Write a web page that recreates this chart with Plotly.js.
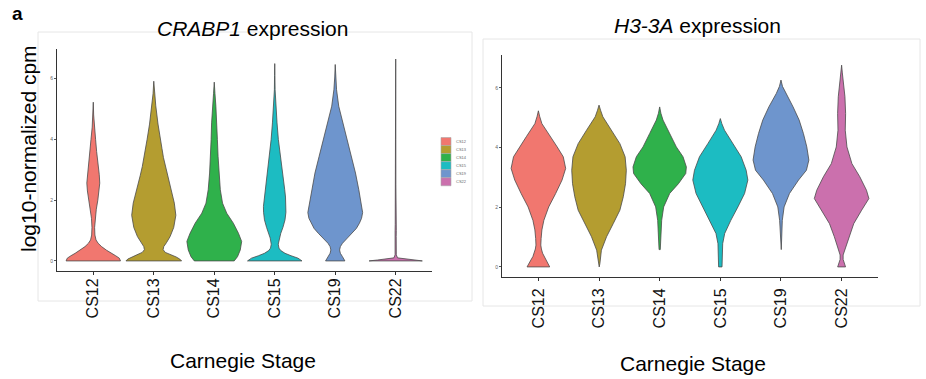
<!DOCTYPE html>
<html><head><meta charset="utf-8">
<script src="https://cdn.plot.ly/plotly-3.0.1.min.js"></script>
<style>html,body{margin:0;padding:0;background:#fff;}#chart{width:926px;height:379px;}</style>
</head><body><div id="chart"></div>
<script>
// ---------- data ----------
const categories = ['CS12', 'CS13', 'CS14', 'CS15', 'CS19', 'CS22'];
const colors = ['#F1776F', '#B49D30', '#2FB14B', '#1CBCC2', '#6E95CD', '#CB70AD'];
const yTickVals = [0, 2, 4, 6];
const genes = ['CRABP1', 'H3-3A'];

// CRABP1: violin outlines (value level -> half width in category units)
const crabp1_cs12_y = [0, 0.09, 0.17, 0.25, 0.35, 0.47, 0.58, 0.69, 0.85, 1.1, 1.4, 1.7, 2.0, 2.3, 2.56, 2.85, 3.2, 3.6, 4.0, 4.4, 4.8, 5.22];
const crabp1_cs12_w = [0.45, 0.43, 0.37, 0.30, 0.22, 0.137, 0.08, 0.045, 0.027, 0.022, 0.03, 0.05, 0.075, 0.097, 0.107, 0.098, 0.075, 0.055, 0.038, 0.018, 0.006, 0];
const crabp1_cs13_y = [0, 0.06, 0.13, 0.2, 0.28, 0.37, 0.47, 0.6, 0.8, 1.1, 1.5, 1.9, 2.3, 2.8, 3.1, 3.4, 3.7, 4.0, 4.5, 5.1, 5.5, 5.91];
const crabp1_cs13_w = [0.46, 0.43, 0.37, 0.28, 0.19, 0.155, 0.165, 0.21, 0.27, 0.33, 0.365, 0.34, 0.29, 0.225, 0.19, 0.16, 0.135, 0.11, 0.07, 0.033, 0.012, 0];
const crabp1_cs14_y = [0, 0.14, 0.36, 0.64, 0.91, 1.24, 1.57, 1.9, 2.34, 2.89, 3.44, 3.99, 4.54, 5.09, 5.5, 5.88];
const crabp1_cs14_w = [0.33, 0.385, 0.43, 0.453, 0.40, 0.316, 0.206, 0.137, 0.10, 0.077, 0.063, 0.052, 0.044, 0.027, 0.012, 0];
const crabp1_cs15_y = [0, 0.09, 0.17, 0.25, 0.34, 0.42, 0.55, 0.75, 0.91, 1.1, 1.35, 1.6, 1.79, 2.1, 2.34, 2.89, 3.44, 3.99, 4.54, 5.09, 5.63, 6.1, 6.49];
const crabp1_cs15_w = [0.45, 0.385, 0.27, 0.17, 0.1, 0.07, 0.058, 0.075, 0.1, 0.135, 0.17, 0.185, 0.187, 0.178, 0.165, 0.13, 0.093, 0.06, 0.038, 0.016, 0.006, 0.003, 0];
const crabp1_cs19_y = [0, 0.07, 0.14, 0.25, 0.36, 0.47, 0.58, 0.75, 0.91, 1.07, 1.24, 1.4, 1.59, 1.9, 2.34, 2.89, 3.44, 3.99, 4.54, 5.09, 5.63, 6.05, 6.46];
const crabp1_cs19_w = [0.16, 0.145, 0.12, 0.085, 0.072, 0.085, 0.12, 0.2, 0.28, 0.35, 0.4, 0.435, 0.453, 0.43, 0.39, 0.335, 0.266, 0.19, 0.124, 0.058, 0.022, 0.008, 0];
const crabp1_cs22_y = [0, 0.03, 0.06, 0.1, 0.2, 0.5, 0.8, 1.0, 1.2, 1.6, 2.5, 4.0, 5.5, 6.64];
const crabp1_cs22_w = [0.44, 0.3, 0.16, 0.03, 0.01, 0.005, 0.008, 0.01, 0.008, 0.004, 0.003, 0.002, 0.001, 0];

// H3-3A
const h33a_cs12_y = [0, 0.1, 0.23, 0.35, 0.46, 0.6, 0.73, 0.95, 1.24, 1.56, 2.01, 2.46, 2.91, 3.3, 3.69, 4.02, 4.36, 4.8, 5.05, 5.23];
const h33a_cs12_w = [0.187, 0.16, 0.124, 0.09, 0.069, 0.05, 0.04, 0.045, 0.058, 0.09, 0.17, 0.285, 0.39, 0.45, 0.41, 0.31, 0.2, 0.058, 0.02, 0];
const h33a_cs13_y = [0, 0.11, 0.56, 1.01, 1.45, 1.9, 2.35, 2.79, 3.24, 3.69, 4.13, 4.58, 5.03, 5.25, 5.42];
const h33a_cs13_w = [0.003, 0.014, 0.039, 0.124, 0.234, 0.344, 0.40, 0.437, 0.45, 0.43, 0.344, 0.206, 0.063, 0.025, 0];
const h33a_cs14_y = [0.58, 1.01, 1.56, 2.01, 2.46, 2.79, 3.13, 3.35, 3.69, 4.02, 4.47, 4.92, 5.15, 5.36];
const h33a_cs14_w = [0.01, 0.022, 0.033, 0.066, 0.165, 0.31, 0.43, 0.44, 0.385, 0.275, 0.165, 0.055, 0.02, 0];
const h33a_cs15_y = [0, 0.34, 0.78, 1.12, 1.56, 2.01, 2.46, 2.91, 3.24, 3.69, 4.13, 4.58, 4.8, 4.97];
const h33a_cs15_w = [0.028, 0.03, 0.039, 0.072, 0.173, 0.29, 0.40, 0.454, 0.426, 0.344, 0.206, 0.069, 0.025, 0];
const h33a_cs19_y = [0.58, 1.01, 1.56, 2.01, 2.46, 2.91, 3.24, 3.58, 4.02, 4.47, 4.92, 5.36, 5.81, 6.05, 6.26];
const h33a_cs19_w = [0.005, 0.011, 0.022, 0.052, 0.14, 0.29, 0.42, 0.46, 0.426, 0.37, 0.30, 0.2, 0.077, 0.025, 0];
const h33a_cs22_y = [0, 0.12, 0.25, 0.4, 0.56, 1.01, 1.45, 1.9, 2.29, 2.57, 3.02, 3.46, 4.02, 4.58, 5.14, 5.7, 6.26, 6.5, 6.76];
const h33a_cs22_w = [0.065, 0.05, 0.025, 0.025, 0.05, 0.12, 0.2, 0.33, 0.45, 0.41, 0.30, 0.17, 0.088, 0.06, 0.066, 0.055, 0.033, 0.012, 0];

const crabp1_ys = [crabp1_cs12_y, crabp1_cs13_y, crabp1_cs14_y, crabp1_cs15_y, crabp1_cs19_y, crabp1_cs22_y];
const crabp1_ws = [crabp1_cs12_w, crabp1_cs13_w, crabp1_cs14_w, crabp1_cs15_w, crabp1_cs19_w, crabp1_cs22_w];
const h33a_ys = [h33a_cs12_y, h33a_cs13_y, h33a_cs14_y, h33a_cs15_y, h33a_cs19_y, h33a_cs22_y];
const h33a_ws = [h33a_cs12_w, h33a_cs13_w, h33a_cs14_w, h33a_cs15_w, h33a_cs19_w, h33a_cs22_w];

// ---------- build ----------
const W = 926, H = 379;
const px = v => v / W;
const py = v => 1 - v / H;
const FONT = 'Liberation Sans, Arial, Helvetica, sans-serif';

function violin(ys, ws, idx, xa, ya) {
  const c = idx + 1;
  const xs = [], yy = [];
  for (let i = 0; i < ys.length; i++) { xs.push(c + ws[i]); yy.push(ys[i]); }
  for (let i = ys.length - 1; i >= 0; i--) { xs.push(c - ws[i]); yy.push(ys[i]); }
  xs.push(c + ws[0]); yy.push(ys[0]); // close outline
  return {
    type: 'scatter', mode: 'lines', x: xs, y: yy, xaxis: xa, yaxis: ya,
    fill: 'toself', fillcolor: colors[idx],
    line: {color: '#4a4a4a', width: 0.8},
    hoverinfo: 'skip', showlegend: false
  };
}

const traces = [];
categories.forEach((cat, i) => {
  traces.push(violin(crabp1_ys[i], crabp1_ws[i], i, 'x', 'y'));
  traces.push(violin(h33a_ys[i], h33a_ws[i], i, 'x2', 'y2'));
});

function xax(domain, anchor, standoff) {
  return {
    domain: domain, range: [0.4, 6.6], tickmode: 'array', anchor: anchor,
    tickvals: categories.map((c, i) => i + 1), ticktext: categories,
    tickangle: -90, ticks: 'outside', ticklen: 3, tickcolor: '#333', tickwidth: 1,
    ticklabelstandoff: standoff,
    showline: true, linecolor: '#333', linewidth: 1, showgrid: false, zeroline: false,
    tickfont: {family: FONT, size: 16, color: '#111'}, fixedrange: true
  };
}
function yax(domain, range, anchor) {
  return {
    domain: domain, range: range, tickmode: 'array', tickvals: yTickVals,
    ticktext: yTickVals.map(String), ticks: 'outside', ticklen: 2, tickcolor: '#555', tickwidth: 1,
    showline: true, linecolor: '#333', linewidth: 1, showgrid: false, zeroline: false,
    tickfont: {family: FONT, size: 5, color: '#666'}, anchor: anchor, fixedrange: true
  };
}

const shapes = [
  {type: 'rect', xref: 'paper', yref: 'paper', x0: px(38), x1: px(472), y0: py(301), y1: py(32),
   line: {color: '#e6e6e6', width: 1}, fillcolor: 'rgba(0,0,0,0)', layer: 'below'},
  {type: 'rect', xref: 'paper', yref: 'paper', x0: px(483), x1: px(920), y0: py(306), y1: py(39),
   line: {color: '#e6e6e6', width: 1}, fillcolor: 'rgba(0,0,0,0)', layer: 'below'}
];
function ann(text, x, y, size, extra) {
  return Object.assign({text: text, x: px(x), y: py(y), xref: 'paper', yref: 'paper', showarrow: false,
    xanchor: 'center', yanchor: 'middle', font: {family: FONT, size: size, color: '#000'}}, extra || {});
}
const annotations = [
  ann('<b>a</b>', 17, 14, 19),
  ann('<i>' + genes[0] + '</i> expression', 252, 29, 21),
  ann('<i>' + genes[1] + '</i> expression', 697, 25, 21),
  ann('log10-normalized cpm', 28, 149, 21, {textangle: -90}),
  ann('Carnegie Stage', 243, 360, 21),
  ann('Carnegie Stage', 693, 363, 21)
];
// legend (drawn manually, ggplot style)
categories.forEach((cat, i) => {
  const top = 137.5 + i * 8.05;
  shapes.push({type: 'rect', xref: 'paper', yref: 'paper', x0: px(441), x1: px(451), y0: py(top + 8), y1: py(top),
    line: {color: '#aaaaaa', width: 0.6}, fillcolor: colors[i]});
  annotations.push(ann(cat, 454, top + 4, 4, {xanchor: 'left', font: {family: FONT, size: 4, color: '#666'}}));
});

const layout = {
  width: W, height: H, margin: {l: 0, r: 0, t: 0, b: 0},
  paper_bgcolor: '#fff', plot_bgcolor: 'rgba(0,0,0,0)', showlegend: false,
  xaxis: xax([px(57), px(432)], 'y', -3),
  yaxis: yax([py(271), py(49)], [-0.332, 6.97], 'x'),
  xaxis2: xax([px(502), px(878)], 'y2', 1),
  yaxis2: yax([py(277), py(55)], [-0.338, 7.10], 'x2'),
  shapes: shapes, annotations: annotations
};

Plotly.newPlot('chart', traces, layout, {staticPlot: true, displayModeBar: false});
</script>
</body></html>
